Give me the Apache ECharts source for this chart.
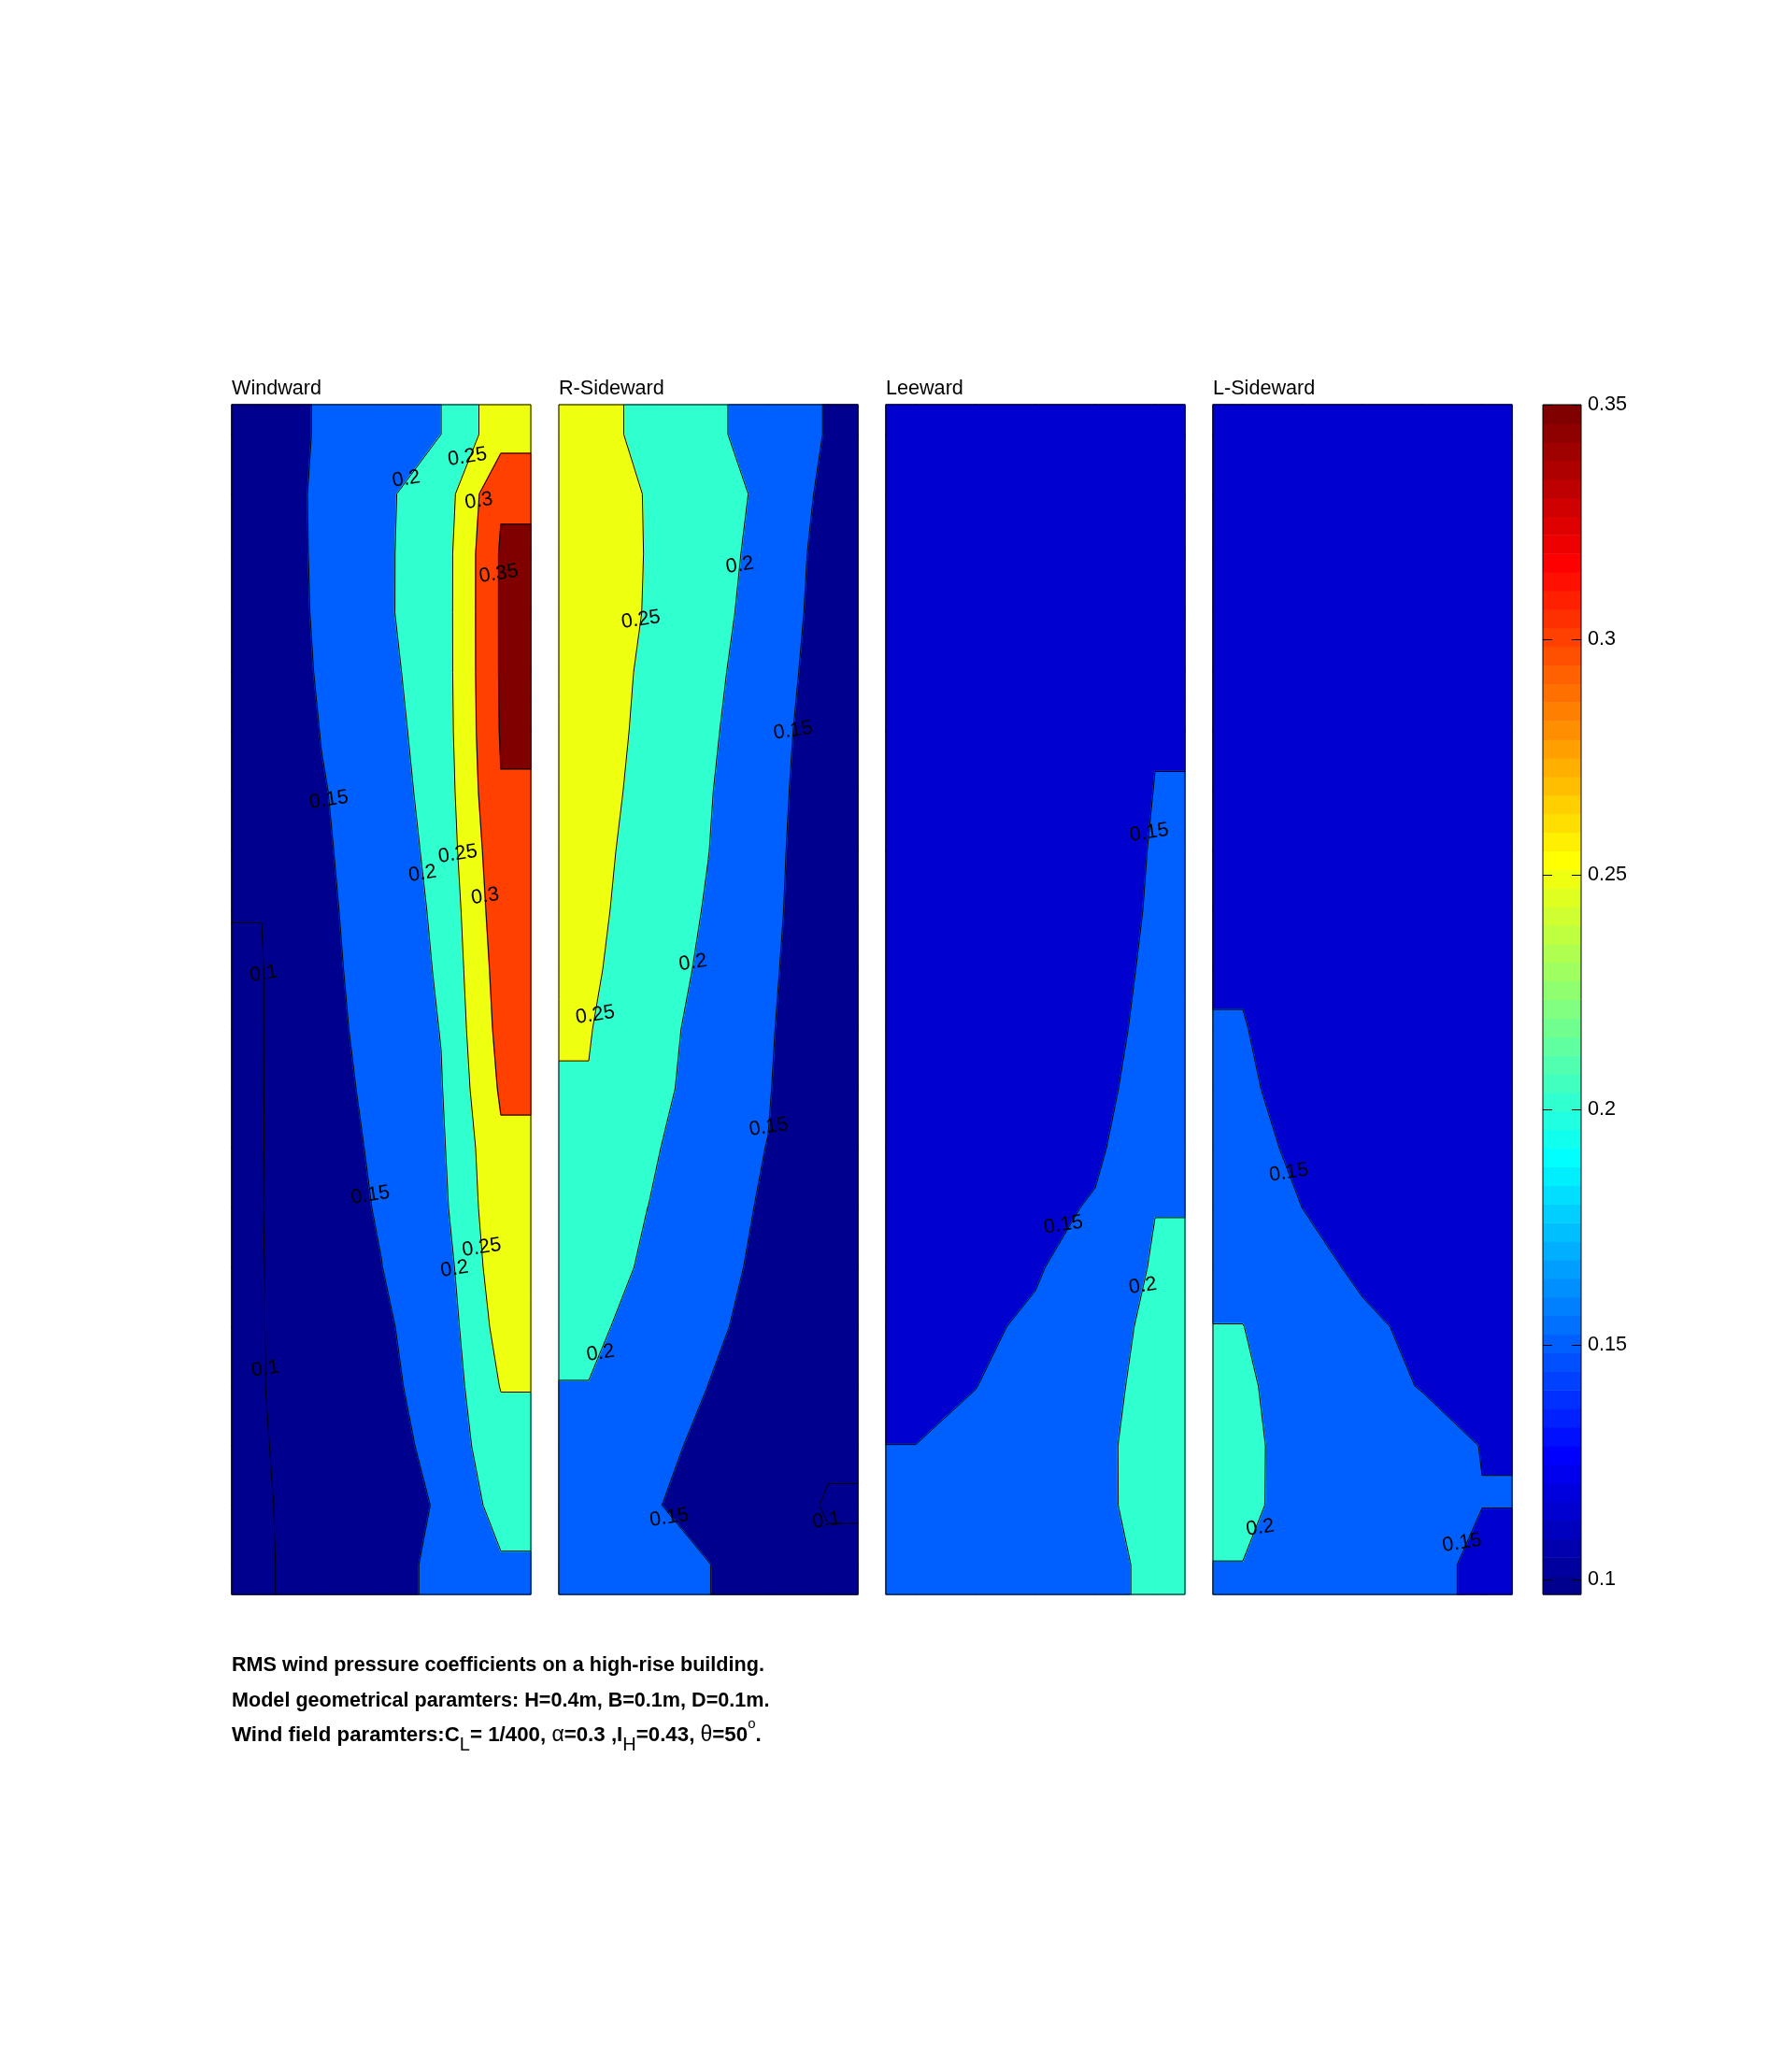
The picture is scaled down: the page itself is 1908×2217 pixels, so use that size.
<!DOCTYPE html>
<html>
<head>
<meta charset="utf-8">
<title>RMS wind pressure coefficients on a high-rise building</title>
<script src="https://cdn.jsdelivr.net/npm/echarts@6.0.0/dist/echarts.min.js"></script>
<style>
html,body{margin:0;padding:0;background:#ffffff;}
#chart{width:1908px;height:2217px;}
</style>
</head>
<body>
<div id="chart"></div>
<script>
// ================= DATA =================
const faceNames = ['Windward', 'R-Sideward', 'Leeward', 'L-Sideward'];
// tap positions on each face (cm): across the face and height above ground
const tapX = [1, 3, 5, 7, 9];
const tapH = [39, 37, 35, 33, 31, 29, 27, 25, 23, 21, 19, 17, 15, 13, 11, 9, 7, 5, 3, 1];

// RMS pressure coefficients, one row per tap height (top -> bottom), one column per tapX
const windwardCp = [
  [0.135, 0.153, 0.178, 0.200, 0.279],
  [0.117, 0.160, 0.193, 0.220, 0.345],
  [0.1145, 0.160, 0.1926, 0.2247, 0.3548],
  [0.108, 0.160, 0.1926, 0.225, 0.3549],
  [0.103, 0.157, 0.1873, 0.2247, 0.3548],
  [0.103, 0.1515, 0.1815, 0.2233, 0.3533],
  [0.104, 0.1467, 0.1763, 0.2201, 0.348],
  [0.103, 0.1452, 0.1685, 0.2169, 0.3369],
  [0.1004, 0.1425, 0.168, 0.210, 0.330],
  [0.0985, 0.1412, 0.165, 0.206, 0.322],
  [0.0985, 0.1415, 0.160, 0.2015, 0.3157],
  [0.0985, 0.139, 0.158, 0.1972, 0.3063],
  [0.0985, 0.1374, 0.155, 0.1926, 0.292],
  [0.099, 0.134, 0.153, 0.1875, 0.2875],
  [0.0985, 0.130, 0.1494, 0.1766, 0.281],
  [0.0985, 0.125, 0.144, 0.1696, 0.2686],
  [0.0985, 0.122, 0.1407, 0.1658, 0.2522],
  [0.0985, 0.110, 0.1257, 0.1688, 0.230],
  [0.0985, 0.106, 0.105, 0.160, 0.217],
  [0.0985, 0.105, 0.133, 0.160, 0.195]
];
const rSidewardCp = [
  [0.267, 0.238, 0.222, 0.155, 0.1495],
  [0.276, 0.247, 0.230, 0.185, 0.139],
  [0.283, 0.247, 0.224, 0.180, 0.134],
  [0.289, 0.245, 0.2175, 0.178, 0.131],
  [0.280, 0.240, 0.211, 0.175, 0.126],
  [0.281, 0.235, 0.2065, 0.172, 0.119],
  [0.277, 0.230, 0.2027, 0.170, 0.113],
  [0.270, 0.226, 0.2005, 0.168, 0.108],
  [0.265, 0.223, 0.197, 0.165, 0.107],
  [0.257, 0.227, 0.190, 0.160, 0.107],
  [0.2517, 0.225, 0.179, 0.155, 0.1115],
  [0.2485, 0.220, 0.175, 0.152, 0.117],
  [0.240, 0.210, 0.1607, 0.1494, 0.115],
  [0.230, 0.1995, 0.158, 0.1475, 0.112],
  [0.225, 0.192, 0.160, 0.143, 0.110],
  [0.210, 0.183, 0.157, 0.137, 0.108],
  [0.1989, 0.175, 0.1497, 0.130, 0.106],
  [0.190, 0.165, 0.1393, 0.122, 0.1055],
  [0.180, 0.155, 0.1327, 0.119, 0.0969],
  [0.175, 0.165, 0.151, 0.125, 0.107]
];
const leewardCp = [
  [0.115, 0.118, 0.120, 0.122, 0.125],
  [0.117, 0.120, 0.122, 0.125, 0.128],
  [0.118, 0.121, 0.124, 0.127, 0.132],
  [0.120, 0.122, 0.125, 0.130, 0.136],
  [0.120, 0.123, 0.127, 0.133, 0.141],
  [0.121, 0.124, 0.128, 0.135, 0.1492],
  [0.122, 0.126, 0.130, 0.138, 0.1504],
  [0.123, 0.127, 0.132, 0.140, 0.1515],
  [0.124, 0.128, 0.134, 0.141, 0.1523],
  [0.125, 0.130, 0.136, 0.142, 0.1538],
  [0.127, 0.132, 0.138, 0.143, 0.1557],
  [0.128, 0.133, 0.139, 0.144, 0.1594],
  [0.130, 0.135, 0.141, 0.146, 0.1673],
  [0.132, 0.137, 0.144, 0.152, 0.199],
  [0.134, 0.140, 0.147, 0.1653, 0.205],
  [0.136, 0.145, 0.1546, 0.170, 0.216],
  [0.140, 0.1497, 0.158, 0.170, 0.229],
  [0.1502, 0.155, 0.160, 0.172, 0.2457],
  [0.155, 0.158, 0.165, 0.175, 0.240],
  [0.156, 0.160, 0.166, 0.175, 0.217]
];
const lSidewardCp = [
  [0.125, 0.122, 0.120, 0.118, 0.116],
  [0.126, 0.123, 0.120, 0.118, 0.115],
  [0.128, 0.124, 0.121, 0.119, 0.116],
  [0.130, 0.125, 0.122, 0.120, 0.117],
  [0.132, 0.127, 0.123, 0.120, 0.118],
  [0.134, 0.128, 0.124, 0.121, 0.118],
  [0.137, 0.130, 0.125, 0.122, 0.119],
  [0.140, 0.131, 0.126, 0.123, 0.120],
  [0.143, 0.132, 0.127, 0.124, 0.121],
  [0.146, 0.133, 0.128, 0.125, 0.122],
  [0.152, 0.130, 0.129, 0.126, 0.123],
  [0.158, 0.1315, 0.130, 0.127, 0.124],
  [0.165, 0.1404, 0.132, 0.128, 0.125],
  [0.175, 0.1497, 0.135, 0.130, 0.126],
  [0.190, 0.165, 0.1419, 0.133, 0.127],
  [0.2005, 0.180, 0.158, 0.1406, 0.128],
  [0.210, 0.1715, 0.162, 0.1483, 0.135],
  [0.220, 0.167, 0.168, 0.165, 0.149],
  [0.215, 0.174, 0.170, 0.168, 0.151],
  [0.199, 0.185, 0.180, 0.178, 0.130]
];

const contourLevels = [0.1, 0.15, 0.2, 0.25, 0.3, 0.35];
const colorbarRange = [0.0969, 0.35];
const colorbarTicks = [0.1, 0.15, 0.2, 0.25, 0.3, 0.35];

// contour labels: [face index, level, height (cm) where the label sits on that contour]
const contourLabels = [
  [0, 0.2, 37.5], [0, 0.25, 38.24], [0, 0.3, 36.76], [0, 0.35, 34.31],
  [0, 0.15, 26.71], [0, 0.2, 24.23], [0, 0.25, 24.89], [0, 0.3, 23.47],
  [0, 0.1, 20.87], [0, 0.15, 13.42], [0, 0.2, 10.94], [0, 0.25, 11.66], [0, 0.1, 7.58],
  [1, 0.2, 34.6], [1, 0.25, 32.77], [1, 0.15, 29.04], [1, 0.2, 21.24], [1, 0.25, 19.48],
  [1, 0.15, 15.71], [1, 0.2, 8.11], [1, 0.15, 2.58], [1, 0.1, 2.49],
  [2, 0.15, 25.61], [2, 0.15, 12.42], [2, 0.2, 10.37],
  [3, 0.15, 14.18], [3, 0.2, 2.24], [3, 0.15, 1.73]
];

const captionLines = [
  'RMS wind pressure coefficients on a high-rise building.',
  'Model geometrical paramters: H=0.4m, B=0.1m, D=0.1m.'
];
const captionWind = '{b|Wind field paramters:C}{sub|L}{b|= 1/400, }{sym|\u03B1}{b|=0.3 ,I}{sub|H}{b|=0.43, }{sym|\u03B8}{b|=50}{sup|o}{b|.}';

// ================= LAYOUT / STYLE =================
const FACE_W = 10, FACE_H = 40;
const FACE_LEFT = [248, 598, 948, 1298];
const PLOT_TOP = 433, PLOT_H = 1273, FACE_PX_W = 320;
const CB_LEFT = 1651, CB_W = 41;
const FONT = '"Liberation Sans", Arial, Helvetica, sans-serif';
const FS = 21.6;

// MATLAB-style 64-colour jet
function jetRGB(k) {
  const row = k + 1;
  const u = j => (j < 1 || j > 47) ? 0 : (j <= 16 ? j / 16 : (j <= 31 ? 1 : (48 - j) / 16));
  const r = row >= 25 ? u(row - 24) : 0;
  const g = (row >= 9 && row <= 55) ? u(row - 8) : 0;
  const b = row <= 39 ? u(row + 8) : 0;
  return 'rgb(' + Math.round(r * 255) + ',' + Math.round(g * 255) + ',' + Math.round(b * 255) + ')';
}
function colorOf(v) {
  let k = Math.floor((v - colorbarRange[0]) / (colorbarRange[1] - colorbarRange[0]) * 64);
  k = Math.max(0, Math.min(63, k));
  return jetRGB(k);
}

function buildFace(cp) {
  const xs = [0].concat(tapX, [FACE_W]);
  const hs = [FACE_H].concat(tapH, [0]);
  const rows = [cp[0]].concat(cp, [cp[cp.length - 1]]);
  const V = rows.map(r => [r[0]].concat(r, [r[r.length - 1]]));
  let vmin = Infinity;
  cp.forEach(r => r.forEach(v => { if (v < vmin) vmin = v; }));
  const cells = [];
  for (let r = 0; r < hs.length - 1; r++)
    for (let c = 0; c < xs.length - 1; c++) cells.push([c, r]);
  return { xs, hs, V, vmin, cells };
}
const faces = [windwardCp, rSidewardCp, leewardCp, lSidewardCp].map(buildFace);

function corners(f, c, r) {
  return [
    { x: f.xs[c], y: f.hs[r], v: f.V[r][c] },
    { x: f.xs[c + 1], y: f.hs[r], v: f.V[r][c + 1] },
    { x: f.xs[c + 1], y: f.hs[r + 1], v: f.V[r + 1][c + 1] },
    { x: f.xs[c], y: f.hs[r + 1], v: f.V[r + 1][c] }
  ];
}
function clipPoly(poly, L, keepAbove) {
  const out = [];
  for (let i = 0; i < poly.length; i++) {
    const a = poly[i], b = poly[(i + 1) % poly.length];
    const ina = keepAbove ? a.v >= L : a.v < L;
    const inb = keepAbove ? b.v >= L : b.v < L;
    if (ina) out.push(a);
    if (ina !== inb) {
      const t = (L - a.v) / (b.v - a.v);
      out.push({ x: a.x + t * (b.x - a.x), y: a.y + t * (b.y - a.y), v: L });
    }
  }
  return out;
}
const bounds = [-Infinity].concat(contourLevels, [Infinity]);

function fillRender(f) {
  return function (params, api) {
    const cell = f.cells[params.dataIndex];
    const P = corners(f, cell[0], cell[1]);
    const children = [];
    for (let k = 0; k < bounds.length - 1; k++) {
      let poly = P;
      if (bounds[k] > -Infinity) poly = clipPoly(poly, bounds[k], true);
      if (poly.length >= 3 && bounds[k + 1] < Infinity) poly = clipPoly(poly, bounds[k + 1], false);
      if (poly.length < 3) continue;
      const col = colorOf(Math.max(bounds[k], f.vmin));
      children.push({
        type: 'polygon',
        shape: { points: poly.map(p => api.coord([p.x, p.y])) },
        style: { fill: col, stroke: col, lineWidth: 1.6, lineJoin: 'round' }
      });
    }
    return { type: 'group', children };
  };
}

function lineRender(f) {
  return function (params, api) {
    const cell = f.cells[params.dataIndex];
    const P = corners(f, cell[0], cell[1]);
    const children = [];
    contourLevels.forEach(L => {
      const ab = P.map(p => p.v >= L);
      const pts = [];
      for (let e = 0; e < 4; e++) {
        const a = P[e], b = P[(e + 1) % 4];
        if (ab[e] !== ab[(e + 1) % 4]) {
          const t = (L - a.v) / (b.v - a.v);
          pts[e] = [a.x + t * (b.x - a.x), a.y + t * (b.y - a.y)];
        }
      }
      const found = [0, 1, 2, 3].filter(e => pts[e]);
      const segs = [];
      if (found.length === 2) segs.push([pts[found[0]], pts[found[1]]]);
      else if (found.length === 4) {
        const center = (P[0].v + P[1].v + P[2].v + P[3].v) / 4 >= L;
        for (let k = 0; k < 4; k++) {
          if (ab[k] !== center) segs.push([pts[(k + 3) % 4], pts[k]]);
        }
      }
      segs.forEach(s => {
        const p1 = api.coord(s[0]), p2 = api.coord(s[1]);
        children.push({
          type: 'line',
          shape: { x1: p1[0], y1: p1[1], x2: p2[0], y2: p2[1] },
          style: { stroke: '#000', lineWidth: 1 }
        });
      });
    });
    return { type: 'group', children };
  };
}

function labelX(f, L, h) {
  let r = 0;
  while (r < f.hs.length - 2 && f.hs[r + 1] > h) r++;
  const t = (f.hs[r] - h) / (f.hs[r] - f.hs[r + 1]);
  const vals = f.V[r].map((v, c) => v * (1 - t) + f.V[r + 1][c] * t);
  for (let c = 0; c < vals.length - 1; c++) {
    const a = vals[c], b = vals[c + 1];
    if (a === b) continue;
    if ((a - L) * (b - L) <= 0) return f.xs[c] + (L - a) / (b - a) * (f.xs[c + 1] - f.xs[c]);
  }
  return null;
}
function labelRender(f, items) {
  return function (params, api) {
    const it = items[params.dataIndex];
    const x = labelX(f, it[1], it[2]);
    if (x === null) return null;
    const p = api.coord([x, it[2]]);
    return {
      type: 'text', x: p[0], y: p[1], rotation: 0.15,
      style: {
        text: String(it[1]), fill: '#000', fontSize: FS, fontFamily: FONT,
        align: 'center', verticalAlign: 'middle'
      }
    };
  };
}
function frameRender(x0, x1, y0, y1, ticks, tickLen) {
  return function (params, api) {
    const a = api.coord([x0, y1]), b = api.coord([x1, y0]);
    const children = [{
      type: 'rect',
      shape: { x: a[0], y: a[1], width: b[0] - a[0], height: b[1] - a[1] },
      style: { fill: 'none', stroke: '#000', lineWidth: 1 }
    }];
    (ticks || []).forEach(t => {
      const pl = api.coord([x0, t]), pr = api.coord([x1, t]);
      const y = Math.round(pl[1]) + 0.5;
      children.push({ type: 'line', shape: { x1: pl[0], y1: y, x2: pl[0] + tickLen, y2: y }, style: { stroke: '#000', lineWidth: 1 } });
      children.push({ type: 'line', shape: { x1: pr[0] - tickLen, y1: y, x2: pr[0], y2: y }, style: { stroke: '#000', lineWidth: 1 } });
    });
    return { type: 'group', children };
  };
}

// ================= OPTION =================
const grids = [], xAxes = [], yAxes = [], series = [], graphics = [];
faces.forEach((f, i) => {
  grids.push({ left: FACE_LEFT[i], top: PLOT_TOP, width: FACE_PX_W, height: PLOT_H, show: false });
  xAxes.push({ type: 'value', gridIndex: i, min: 0, max: FACE_W, show: false });
  yAxes.push({ type: 'value', gridIndex: i, min: 0, max: FACE_H, show: false });
  series.push({
    type: 'custom', coordinateSystem: 'cartesian2d', xAxisIndex: i, yAxisIndex: i,
    data: f.cells, renderItem: fillRender(f), z: 2, silent: true
  });
  series.push({
    type: 'custom', coordinateSystem: 'cartesian2d', xAxisIndex: i, yAxisIndex: i,
    data: f.cells, renderItem: lineRender(f), z: 3, silent: true
  });
  const items = contourLabels.filter(l => l[0] === i);
  series.push({
    type: 'custom', coordinateSystem: 'cartesian2d', xAxisIndex: i, yAxisIndex: i,
    data: items.map(l => [5, l[2]]), renderItem: labelRender(f, items), z: 4, silent: true
  });
  series.push({
    type: 'custom', coordinateSystem: 'cartesian2d', xAxisIndex: i, yAxisIndex: i,
    data: [[5, 20]], renderItem: frameRender(0, FACE_W, 0, FACE_H), z: 5, silent: true
  });
  graphics.push({
    type: 'text', x: FACE_LEFT[i], y: 416,
    style: { text: faceNames[i], fill: '#000', fontSize: FS, fontFamily: FONT, verticalAlign: 'middle' }
  });
});

// colorbar
grids.push({ left: CB_LEFT, top: PLOT_TOP, width: CB_W, height: PLOT_H, show: false });
xAxes.push({ type: 'value', gridIndex: 4, min: 0, max: 1, show: false });
yAxes.push({
  type: 'value', gridIndex: 4, min: colorbarRange[0], max: colorbarRange[1], position: 'right',
  axisLine: { show: false }, splitLine: { show: false }, axisTick: { show: false },
  axisLabel: {
    show: true, customValues: colorbarTicks, margin: 7, color: '#000', fontSize: FS, fontFamily: FONT,
    formatter: v => String(Math.round(v * 100) / 100)
  }
});
const cbSteps = [];
for (let k = 0; k < 64; k++) cbSteps.push(k);
const cbStep = (colorbarRange[1] - colorbarRange[0]) / 64;
series.push({
  type: 'custom', coordinateSystem: 'cartesian2d', xAxisIndex: 4, yAxisIndex: 4,
  data: cbSteps.map(k => [0.5, colorbarRange[0] + (k + 0.5) * cbStep]),
  z: 2, silent: true,
  renderItem: function (params, api) {
    const k = cbSteps[params.dataIndex];
    const lo = colorbarRange[0] + k * cbStep, hi = lo + cbStep;
    const a = api.coord([0, hi]), b = api.coord([1, lo]);
    const col = jetRGB(k);
    return {
      type: 'rect',
      shape: { x: a[0], y: a[1], width: b[0] - a[0], height: b[1] - a[1] + 0.6 },
      style: { fill: col }
    };
  }
});
series.push({
  type: 'custom', coordinateSystem: 'cartesian2d', xAxisIndex: 4, yAxisIndex: 4,
  data: [[0.5, 0.2]], z: 5, silent: true,
  renderItem: frameRender(0, 1, colorbarRange[0], colorbarRange[1], colorbarTicks, 10)
});

// caption
const capY = [1782, 1820, 1857];
captionLines.forEach((t, i) => {
  graphics.push({
    type: 'text', x: 248, y: capY[i],
    style: { text: t, fill: '#000', fontSize: FS, fontWeight: 'bold', fontFamily: FONT, verticalAlign: 'middle' }
  });
});
graphics.push({
  type: 'text', x: 248, y: capY[2],
  style: {
    text: captionWind, fill: '#000', verticalAlign: 'middle',
    rich: {
      b: { fontSize: 22.3, fontWeight: 'bold', fontFamily: FONT, lineHeight: 40, fill: '#000' },
      sym: { fontSize: 23, fontFamily: FONT, lineHeight: 40, fill: '#000' },
      sub: { fontSize: 20, fontFamily: FONT, lineHeight: 20, verticalAlign: 'bottom', fill: '#000' },
      sup: { fontSize: 15, fontFamily: FONT, lineHeight: 15, verticalAlign: 'top', fill: '#000' }
    }
  }
});

const chart = echarts.init(document.getElementById('chart'), null, { renderer: 'canvas', width: 1908, height: 2217 });
chart.setOption({
  backgroundColor: '#ffffff',
  animation: false,
  grid: grids,
  xAxis: xAxes,
  yAxis: yAxes,
  series: series,
  graphic: graphics
});
</script>
</body>
</html>
